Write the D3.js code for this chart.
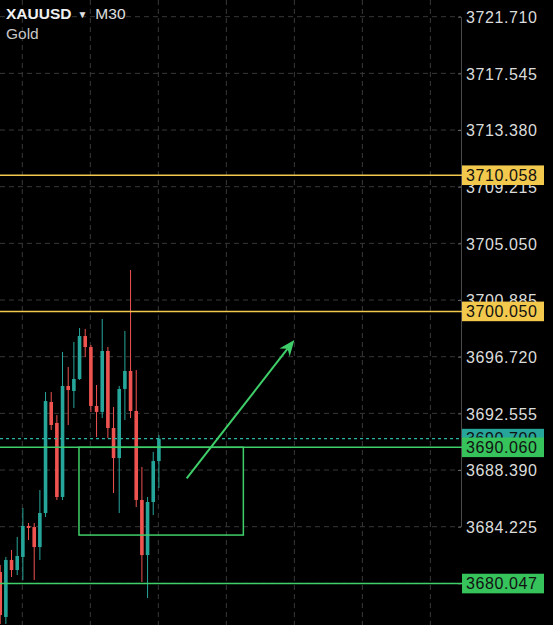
<!DOCTYPE html>
<html>
<head>
<meta charset="utf-8">
<script src="https://cdn.jsdelivr.net/npm/d3@7"></script>
<style>
  html, body { margin: 0; padding: 0; background: #000; }
  svg { display: block; }
  text { font-family: "Liberation Sans", Arial, sans-serif; }
</style>
</head>
<body>
<svg id="chart" width="553" height="625"></svg>
<script>
// ---------- DATA ----------
const symbol = "XAUUSD";
const timeframe = "M30";
const subtitle = "Gold";

// candle index 0..28 (M30 bars)
const opens  = [3680.89,3677.59,3681.78,3681.04,3682.00,3684.28,3684.20,3682.73,3685.23,3693.39,
                3691.85,3686.41,3694.57,3694.20,3695.08,3698.24,3697.43,3693.10,3692.66,3697.14,
                3691.48,3689.27,3694.35,3695.67,3692.73,3686.19,3682.14,3686.04,3689.05];
const highs  = [3681.41,3682.00,3682.51,3683.47,3685.60,3684.50,3684.50,3686.92,3694.12,3694.12,
                3692.43,3697.07,3695.96,3697.80,3698.83,3698.76,3697.58,3694.64,3699.49,3697.43,
                3693.02,3694.57,3698.61,3703.09,3695.74,3688.61,3686.41,3689.72,3690.96];
const lows   = [3677.07,3677.07,3680.53,3680.67,3680.31,3683.25,3680.31,3681.78,3684.94,3691.33,
                3686.19,3686.19,3691.70,3692.95,3695.01,3696.70,3692.66,3690.82,3692.21,3690.74,
                3686.70,3685.23,3692.07,3692.21,3685.67,3680.16,3678.98,3685.08,3687.07];
const closes = [3677.73,3681.78,3681.04,3682.07,3684.28,3684.13,3682.73,3685.23,3693.46,3691.70,
                3686.41,3694.57,3694.27,3695.08,3698.24,3697.43,3693.10,3692.66,3697.14,3691.48,
                3689.27,3694.35,3695.67,3692.73,3686.19,3682.14,3686.04,3689.05,3690.70];

const tickValues = [3721.710,3717.545,3713.380,3709.215,3705.050,3700.885,3696.720,3692.555,3688.390,3684.225,3680.060];

const levelPrices = [3710.058, 3700.050, 3690.060, 3680.047];
const levelColors = ["#f2c94c", "#f2c94c", "#3fcf6a", "#3fcf6a"];
const currentPrice = 3690.70;

// drawn box (bar index / price)
const boxBars = [13.9, 42.9];
const boxPrices = [3690.060, 3683.61];
// arrow (bar index / price)
const arrowBars = [32.9, 51.9];
const arrowPrices = [3687.78, 3697.95];
// vertical grid positions (bar index)
const gridBars = [3.9, 15.9, 27.9, 39.9, 51.9, 63.9, 75.9];

// ---------- LAYOUT ----------
const W = 553, H = 625;
const plotRight = 461;
const svg = d3.select("#chart");
svg.append("rect").attr("width", W).attr("height", H).attr("fill", "#000");

const y = d3.scaleLinear().domain([3684.225, 3721.710]).range([526.7, 16.7]);
const x = d3.scaleLinear().domain([0, 28]).range([0.2, 158.9]);

const UP = "#26a69a", DOWN = "#ef5350";
const gridColor = "#383838";

// grid
const plot = svg.append("g");
plot.selectAll("line.vg").data(gridBars).join("line")
  .attr("x1", d => x(d)).attr("x2", d => x(d))
  .attr("y1", 0).attr("y2", H)
  .attr("stroke", gridColor).attr("stroke-width", 1)
  .attr("stroke-dasharray", "5,4");
plot.selectAll("line.hg").data(tickValues).join("line")
  .attr("x1", 0).attr("x2", plotRight)
  .attr("y1", d => y(d)).attr("y2", d => y(d))
  .attr("stroke", gridColor).attr("stroke-width", 1)
  .attr("stroke-dasharray", "5,4");

// price axis (right)
const axis = d3.axisRight(y).tickValues(tickValues).tickSize(0).tickPadding(5)
  .tickFormat(d3.format(".3f"));
const axG = svg.append("g").attr("transform", `translate(${plotRight},0)`).call(axis);
axG.select(".domain").attr("stroke", "#4a4a4a");
axG.selectAll("text").attr("fill", "#dcdcdc").attr("font-size", 16)
  .attr("letter-spacing", "0.6px").attr("dy", "0.36em");
axG.selectAll(".tick").append("line")
  .attr("x1", -3).attr("x2", 0).attr("stroke", "#666");

// candles
const bars = d3.range(opens.length).map(i => ({
  i, o: opens[i], h: highs[i], l: lows[i], c: closes[i]
}));
const cg = svg.append("g");
cg.selectAll("line.wick").data(bars).join("line")
  .attr("x1", d => x(d.i)).attr("x2", d => x(d.i))
  .attr("y1", d => y(d.h)).attr("y2", d => y(d.l))
  .attr("stroke", d => d.c >= d.o ? UP : DOWN).attr("stroke-width", 1);
const bw = 3.6;
cg.selectAll("rect.body").data(bars).join("rect")
  .attr("x", d => x(d.i) - bw / 2).attr("width", bw)
  .attr("y", d => y(Math.max(d.o, d.c)))
  .attr("height", d => Math.max(1, Math.abs(y(d.o) - y(d.c))))
  .attr("fill", d => d.c >= d.o ? UP : DOWN);

// current price dashed line
svg.append("line")
  .attr("x1", 0).attr("x2", plotRight)
  .attr("y1", y(currentPrice)).attr("y2", y(currentPrice))
  .attr("stroke", "#2bb3a3").attr("stroke-width", 1.2)
  .attr("stroke-dasharray", "3,3");

// level lines
svg.selectAll("line.level").data(levelPrices).join("line")
  .attr("x1", 0).attr("x2", plotRight + 2)
  .attr("y1", d => y(d)).attr("y2", d => y(d))
  .attr("stroke", (d, i) => levelColors[i]).attr("stroke-width", 1.5);

// drawn box
svg.append("rect")
  .attr("x", x(boxBars[0])).attr("y", y(boxPrices[0]))
  .attr("width", x(boxBars[1]) - x(boxBars[0]))
  .attr("height", y(boxPrices[1]) - y(boxPrices[0]))
  .attr("fill", "none").attr("stroke", "#3fcf6a").attr("stroke-width", 1.5);

// arrow
const ax1 = x(arrowBars[0]), ay1 = y(arrowPrices[0]);
const ax2 = x(arrowBars[1]), ay2 = y(arrowPrices[1]);
const ang = Math.atan2(ay2 - ay1, ax2 - ax1);
const headLen = 16, headW = 6.5, notch = 11;
const bx = ax2 - Math.cos(ang) * notch, by = ay2 - Math.sin(ang) * notch;
svg.append("line")
  .attr("x1", ax1).attr("y1", ay1).attr("x2", bx).attr("y2", by)
  .attr("stroke", "#3fcf6a").attr("stroke-width", 2);
const px = -Math.sin(ang), py = Math.cos(ang);
const baseX = ax2 - Math.cos(ang) * headLen, baseY = ay2 - Math.sin(ang) * headLen;
svg.append("path")
  .attr("d", `M${ax2},${ay2} L${baseX + px * headW},${baseY + py * headW} L${bx},${by} L${baseX - px * headW},${baseY - py * headW} Z`)
  .attr("fill", "#3fcf6a");

// price labels (boxes)
const labels = [
  { p: currentPrice, bg: "#26a69a" },
  { p: levelPrices[0], bg: levelColors[0] },
  { p: levelPrices[1], bg: levelColors[1] },
  { p: levelPrices[2], bg: "#36c35c" },
  { p: levelPrices[3], bg: "#36c35c" }
];
const lg = svg.append("g");
labels.forEach(L => {
  const g = lg.append("g").attr("transform", `translate(0,${y(L.p)})`);
  g.append("rect").attr("x", 462).attr("y", -9.8).attr("width", 82).attr("height", 19.6)
    .attr("fill", L.bg);
  g.append("text").attr("x", 466).attr("y", 0).attr("dy", "0.36em")
    .attr("font-size", 16).attr("letter-spacing", "0.6px")
    .attr("fill", "#111").text(d3.format(".3f")(L.p));
});

// title
const t = svg.append("text").attr("x", 6).attr("y", 18.5).attr("font-size", 15.5);
t.append("tspan").attr("font-weight", "bold").attr("fill", "#f0f0f0").text(symbol);
t.append("tspan").attr("dx", 6).attr("font-size", 10).attr("fill", "#e0e0e0").attr("dy", -1).text("▼");
t.append("tspan").attr("dx", 8).attr("dy", 1).attr("fill", "#e0e0e0").text(timeframe);
svg.append("text").attr("x", 6).attr("y", 39).attr("font-size", 15.5)
  .attr("fill", "#c8c8c8").text(subtitle);
</script>
</body>
</html>
